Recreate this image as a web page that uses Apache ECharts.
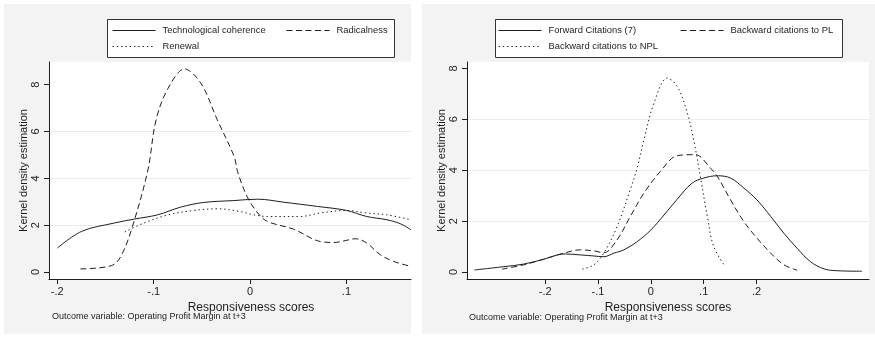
<!DOCTYPE html>
<html>
<head>
<meta charset="utf-8">
<script src="https://cdn.jsdelivr.net/npm/echarts@6/dist/echarts.min.js"></script>
<style>
html,body{margin:0;padding:0;background:#fff;}
#c{width:875px;height:337px;}
</style>
</head>
<body>
<div id="c"></div>
<script>
// ---- Data ----
// Left panel: [responsiveness score, kernel density]
const techCoherence = [[-0.2,1.02],[-0.175,1.73],[-0.141,2.09],[-0.12,2.26],[-0.096,2.44],[-0.072,2.77],[-0.048,2.97],[-0.017,3.05],[0.008,3.11],[0.035,2.98],[0.07,2.8],[0.10,2.63],[0.121,2.37],[0.142,2.23],[0.156,2.06],[0.167,1.8]];
const radicalness = [[-0.176,0.13],[-0.144,0.27],[-0.134,0.67],[-0.122,1.95],[-0.106,4.36],[-0.0975,6.5],[-0.085,7.85],[-0.068,8.67],[-0.051,8.06],[-0.034,6.5],[-0.0165,4.93],[-0.013,4.29],[-0.003,3.22],[0.008,2.52],[0.018,2.16],[0.045,1.83],[0.073,1.3],[0.087,1.26],[0.10,1.35],[0.109,1.42],[0.121,1.24],[0.135,0.74],[0.149,0.45],[0.167,0.24]];
const renewal = [[-0.130,1.71],[-0.11,2.09],[-0.085,2.44],[-0.058,2.63],[-0.034,2.70],[-0.01,2.58],[0.004,2.44],[0.018,2.37],[0.052,2.37],[0.073,2.52],[0.10,2.63],[0.121,2.52],[0.142,2.44],[0.167,2.23]];
// Right panel
const forwardCitations = [[-0.334,0.08],[-0.278,0.21],[-0.241,0.31],[-0.203,0.50],[-0.177,0.67],[-0.162,0.71],[-0.133,0.67],[-0.108,0.63],[-0.089,0.60],[-0.070,0.74],[-0.051,0.87],[-0.026,1.19],[0.0,1.65],[0.025,2.24],[0.05,2.86],[0.078,3.49],[0.10,3.69],[0.126,3.78],[0.151,3.69],[0.176,3.30],[0.201,2.83],[0.227,2.18],[0.252,1.52],[0.277,0.93],[0.302,0.41],[0.328,0.12],[0.353,0.05],[0.40,0.03]];
const backwardPL = [[-0.282,0.11],[-0.241,0.28],[-0.203,0.50],[-0.165,0.74],[-0.133,0.87],[-0.108,0.83],[-0.089,0.76],[-0.064,1.26],[-0.039,2.18],[-0.013,3.10],[0.018,3.95],[0.05,4.57],[0.084,4.61],[0.113,4.08],[0.126,3.75],[0.151,2.83],[0.176,1.98],[0.201,1.33],[0.227,0.74],[0.252,0.28],[0.277,0.07]];
const backwardNPL = [[-0.130,0.11],[-0.108,0.28],[-0.089,0.74],[-0.064,1.78],[-0.039,3.23],[-0.026,4.08],[-0.013,5.2],[0.006,6.64],[0.031,7.62],[0.05,7.29],[0.069,6.25],[0.081,5.2],[0.091,4.08],[0.107,2.18],[0.119,1.0],[0.141,0.21]];

// Tick values / labels
const xTickValsL = [-0.2,-0.1,0,0.1];
const xTickLabsL = ['-.2','-.1','0','.1'];
const xTickValsR = [-0.2,-0.1,0,0.1,0.2];
const xTickLabsR = ['-.2','-.1','0','.1','.2'];
const yTickVals = [0,2,4,6,8];
const yTickLabs = ['0','2','4','6','8'];

// Text
const seriesNamesL = ['Technological coherence','Radicalness','Renewal'];
const seriesNamesR = ['Forward Citations (7)','Backward citations to PL','Backward citations to NPL'];
const xTitle = 'Responsiveness scores';
const yTitle = 'Kernel density estimation';
const noteText = 'Outcome variable: Operating Profit Margin at t+3';

// ---- Chart ----
const FONT = '"Liberation Sans", Arial, Helvetica, sans-serif';
const INK = '#1e1e1e';
const lab = (vals, labs) => v => {
  const i = vals.findIndex(t => Math.abs(t - v) < 1e-9);
  return i >= 0 ? labs[i] : '';
};
const styles = ['solid', [6, 3.5], [1.4, 2.9]];

function xAxis(gi, min, max, vals, labs, namePad) {
  return {
    type: 'value', gridIndex: gi, min: min, max: max,
    name: xTitle, nameLocation: 'middle', nameGap: 19,
    nameTextStyle: { fontFamily: FONT, fontSize: 12, color: INK, padding: namePad },
    axisLine: { onZero: false, lineStyle: { color: INK, width: 1 } },
    axisTick: { show: true, length: 5, customValues: vals, lineStyle: { color: INK } },
    axisLabel: { customValues: vals, formatter: lab(vals, labs), margin: 7,
      fontFamily: FONT, fontSize: 11, color: INK },
    splitLine: { show: false }
  };
}
function yAxis(gi, min, max) {
  return {
    type: 'value', gridIndex: gi, min: min, max: max, splitNumber: 5,
    name: yTitle, nameLocation: 'middle', nameGap: 20,
    nameTextStyle: { fontFamily: FONT, fontSize: 11, color: INK },
    axisLine: { show: true, onZero: false, lineStyle: { color: INK, width: 1 } },
    axisTick: { show: true, length: 5, customValues: yTickVals, lineStyle: { color: INK } },
    axisLabel: { customValues: yTickVals, formatter: lab(yTickVals, yTickLabs), rotate: 90,
      margin: 8, fontFamily: FONT, fontSize: 11, color: INK },
    splitLine: { show: true, showMinLine: false, showMaxLine: false,
      lineStyle: { color: '#ebebeb', width: 1 } }
  };
}
function line(name, data, xi, k) {
  return {
    type: 'line', name: name, data: data, xAxisIndex: xi, yAxisIndex: xi,
    symbol: 'none', showSymbol: false, smooth: 0.35, clip: true,
    lineStyle: { color: INK, width: 1, type: styles[k] },
    itemStyle: { color: INK }
  };
}
function leg(name, left, top) {
  return {
    data: [name], left: left, top: top, itemWidth: 43, itemHeight: 10,
    selectedMode: false, z: 200, padding: 0,
    itemStyle: { opacity: 0, color: 'transparent', borderWidth: 0 },
    lineStyle: { width: 1 },
    textStyle: { fontFamily: FONT, fontSize: 9.4, color: INK, padding: [0, 0, 0, 2] }
  };
}

const chart = echarts.init(document.getElementById('c'), null, { renderer: 'canvas' });
chart.setOption({
  backgroundColor: '#ffffff',
  animation: false,
  grid: [
    { left: 49, top: 62, right: 464, bottom: 58, show: true, backgroundColor: '#ffffff', borderWidth: 0, outerBoundsMode: 'none' },
    { left: 467, top: 62, right: 6, bottom: 58, show: true, backgroundColor: '#ffffff', borderWidth: 0, outerBoundsMode: 'none' }
  ],
  xAxis: [
    xAxis(0, -0.2086, 0.167, xTickValsL, xTickLabsL, [0, 0, 0, 42]),
    xAxis(1, -0.348, 0.413, xTickValsR, xTickLabsR, 0)
  ],
  yAxis: [ yAxis(0, -0.3, 8.97), yAxis(1, -0.275, 8.25) ],
  legend: [
    leg(seriesNamesL[0], 112, 26), leg(seriesNamesL[1], 286, 26), leg(seriesNamesL[2], 112, 42),
    leg(seriesNamesR[0], 498, 26), leg(seriesNamesR[1], 680, 26), leg(seriesNamesR[2], 498, 42)
  ],
  graphic: [
    { type: 'rect', z: -100, shape: { x: 4, y: 4, width: 407, height: 330 }, style: { fill: '#f3f3f3' } },
    { type: 'rect', z: -100, shape: { x: 422, y: 4, width: 453, height: 330 }, style: { fill: '#f3f3f3' } },
    { type: 'rect', z: 100, shape: { x: 107.5, y: 19.5, width: 287, height: 38 }, style: { fill: '#fff', stroke: '#333', lineWidth: 1 } },
    { type: 'rect', z: 100, shape: { x: 495.5, y: 19.5, width: 347, height: 38 }, style: { fill: '#fff', stroke: '#333', lineWidth: 1 } },
    { type: 'text', z: 100, x: 52, y: 317, style: { text: noteText, fontFamily: FONT, fontSize: 9, fill: INK, verticalAlign: 'middle' } },
    { type: 'text', z: 100, x: 469, y: 318, style: { text: noteText, fontFamily: FONT, fontSize: 9, fill: INK, verticalAlign: 'middle' } }
  ],
  series: [
    line(seriesNamesL[0], techCoherence, 0, 0),
    line(seriesNamesL[1], radicalness, 0, 1),
    line(seriesNamesL[2], renewal, 0, 2),
    line(seriesNamesR[0], forwardCitations, 1, 0),
    line(seriesNamesR[1], backwardPL, 1, 1),
    line(seriesNamesR[2], backwardNPL, 1, 2)
  ]
});
</script>
</body>
</html>
